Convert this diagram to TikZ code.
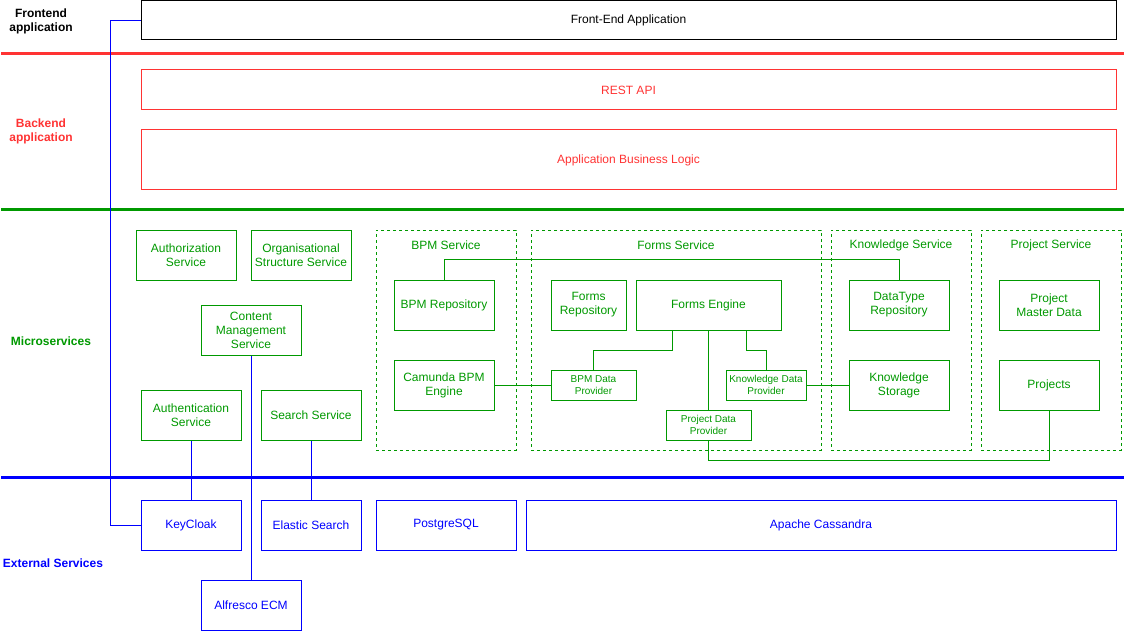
\documentclass[tikz,border=0pt]{standalone}
\usepackage{fontspec}
\setmainfont{Liberation Sans}
\usepackage{tikz}
\usetikzlibrary{positioning}

\definecolor{backred}{HTML}{FF3333}
\definecolor{microgreen}{HTML}{009900}
\definecolor{extblue}{HTML}{0000FF}

\tikzset{
    box/.style={draw, rectangle, align=center, inner sep=2pt, line width=1pt,
        minimum width=100pt, minimum height=50pt, font=\fontsize{12}{14}\selectfont},
    smallbox/.style={box, minimum height=30pt, font=\fontsize{10}{12}\selectfont},
    group/.style={draw=microgreen, rectangle, line width=1pt, dash pattern=on 3pt off 3pt,
        minimum width=140pt, minimum height=220pt},
    grouptitle/.style={text=microgreen, inner sep=0pt, font=\fontsize{12}{14}\selectfont},
    layer/.style={align=center, inner sep=0pt, font=\bfseries\fontsize{12}{14}\selectfont},
    sep/.style={line width=3pt},
    link/.style={line width=1pt}
}

\begin{document}
\begin{tikzpicture}[x=1pt,y=-1pt,node distance=80pt,on grid]
        \useasboundingbox (0,0) rectangle (1124,631);

        % layer rules
        \draw[sep, backred]     (1,54)  -- (1124,54);
        \draw[sep, microgreen]  (1,210) -- (1124,210);
        \draw[sep, extblue]     (1,477) -- (1124,477);

        % layer names
        \node[layer]                        (frontend_lbl)  at (41,21.5)    {Frontend\\application};
        \node[layer, text=backred]          (backend_lbl)   at (41,131.5)   {Backend\\application};
        \node[layer, text=microgreen]       (micro_lbl)     at (51,341)     {Microservices};
        \node[layer, text=extblue]          (external_lbl)  at (53,563)     {External Services};

        % frontend and backend
        \node[box, minimum width=975pt, minimum height=39pt]                (frontend_app)  at (628.5,20.5) {Front-End Application};
        \node[box, draw=backred, text=backred, minimum width=975pt, minimum height=40pt] (rest_api) at (628.5,90) {REST API};
        \node[box, draw=backred, text=backred, minimum width=975pt, minimum height=60pt] (business_logic) at (628.5,160) {Application Business Logic};

        \begin{scope}[every node/.append style={draw=microgreen, text=microgreen}]
        \node[box]                  (auth_service)      at (186,255)            {Authorization\\Service};
        \node[box]                  (org_service)       at (301,255)            {Organisational\\Structure Service};
        \node[box]                  (content_mgmt)      at (251,330)            {Content\\Management\\Service};
        \node[box]                  (authn_service)     at (191,415)            {Authentication\\Service};
        \node[box]                  (search_service)    at (311,415)            {Search Service};
        \end{scope}

        % service groups
        \node[group]                                (bpm_service)       at (446,340)    {};
        \node[group, minimum width=290pt]           (forms_service)     at (676,340)    {};
        \node[group]                                (knowledge_service) at (901,340)    {};
        \node[group]                                (project_service)   at (1051,340)   {};

        \node[grouptitle]   (bpm_title)         at ([yshift=-15.5pt]bpm_service.north)        {BPM Service};
        \node[grouptitle]   (forms_title)       at ([yshift=-15.5pt]forms_service.north)      {Forms Service};
        \node[grouptitle]   (knowledge_title)   at ([yshift=-15.5pt]knowledge_service.north)  {Knowledge Service};
        \node[grouptitle]   (project_title)     at ([yshift=-15.5pt]project_service.north)    {Project Service};

        \begin{scope}[every node/.append style={draw=microgreen, text=microgreen}]
        \node[box]                                  (bpm_repo)          at (444,305)            {BPM Repository};
        \node[box]                                  (camunda)           [below=of bpm_repo]     {Camunda BPM\\Engine};
        \node[box, minimum width=75pt]              (forms_repo)        at (588.5,305)          {Forms\\Repository};
        \node[box, minimum width=145pt]             (forms_engine)      at (708.5,305)          {Forms Engine};
        \node[smallbox, minimum width=85pt]         (bpm_dp)            at (593.5,385)          {BPM Data\\Provider};
        \node[smallbox, minimum width=80pt]         (knowledge_dp)      at (766,385)            {Knowledge Data\\Provider};
        \node[smallbox, minimum width=85pt]         (project_dp)        [below=120pt of forms_engine] {Project Data\\Provider};
        \node[box]                                  (datatype_repo)     at (899,305)            {DataType\\Repository};
        \node[box]                                  (knowledge_storage) [below=of datatype_repo] {Knowledge\\Storage};
        \node[box]                                  (project_master)    at (1049,305)           {Project\\Master Data};
        \node[box]                                  (projects)          [below=of project_master] {Projects};
        \end{scope}

        % external services
        \begin{scope}[every node/.append style={draw=extblue, text=extblue}]
        \node[box]                                  (keycloak)          [below=110pt of authn_service]  {KeyCloak};
        \node[box]                                  (elastic)           [below=110pt of search_service] {Elastic Search};
        \node[box, minimum width=140pt]             (postgres)          at (446,525)                    {PostgreSQL};
        \node[box, minimum width=590pt]             (cassandra)         at (821,525)                    {Apache Cassandra};
        \node[box]                                  (alfresco)          [below=275pt of content_mgmt]   {Alfresco ECM};
        \end{scope}

        % links
        \draw[link, extblue]    (frontend_app.west) -- ++(-30,0) |- (keycloak.west);
        \draw[link, extblue]    (authn_service.south) -- (keycloak.north);
        \draw[link, extblue]    (search_service.south) -- (elastic.north);
        \draw[link, extblue]    (content_mgmt.south) -- (alfresco.north);

        \draw[link, microgreen] (bpm_repo.north) -- ++(0,-20) -| (datatype_repo.north);
        \draw[link, microgreen] (camunda.east) -- (bpm_dp.west);
        \draw[link, microgreen] ([xshift=-36.5pt]forms_engine.south) -- ++(0,20) -| (bpm_dp.north);
        \draw[link, microgreen] ([xshift=37.5pt]forms_engine.south) -- ++(0,20) -| (knowledge_dp.north);
        \draw[link, microgreen] (forms_engine.south) -- (project_dp.north);
        \draw[link, microgreen] (knowledge_dp.east) -- (knowledge_storage.west);
        \draw[link, microgreen] (project_dp.south) -- ++(0,20) -| (projects.south);
    \end{tikzpicture}
\end{document}
